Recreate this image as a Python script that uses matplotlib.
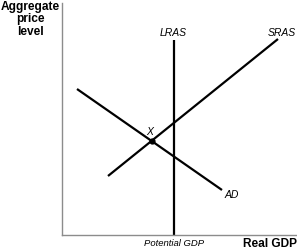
import matplotlib.pyplot as plt

plt.rcParams['font.family'] = ['Liberation Sans', 'DejaVu Sans']

# curve endpoints (in chart units, origin at the axes corner)
lras_x = 112
lras_y = [0, 195]
sras_x = [46, 216]
sras_y = [59, 196]
ad_x = [15, 160]
ad_y = [146, 45]
point_x = 89.5
point_y = 94

fig = plt.figure(figsize=(2.97, 2.52), dpi=100)
ax = fig.add_axes([62 / 297, 17 / 252, 235 / 297, 232 / 252])
ax.set_xlim(0, 235)
ax.set_ylim(0, 232)

# axes: only left and bottom
for s in ['top', 'right']:
    ax.spines[s].set_visible(False)
for s in ['left', 'bottom']:
    ax.spines[s].set_color('#8c8c8c')
    ax.spines[s].set_linewidth(1.0)
ax.set_xticks([])
ax.set_yticks([])

ax.plot([lras_x, lras_x], lras_y, color='black', lw=1.6, solid_capstyle='butt')
ax.plot(sras_x, sras_y, color='black', lw=1.6, solid_capstyle='butt')
ax.plot(ad_x, ad_y, color='black', lw=1.6, solid_capstyle='butt')
ax.plot(point_x, point_y, 'o', color='black', ms=3.5)

ax.text(lras_x - 1, 197, 'LRAS', style='italic', fontsize=7.5, ha='center', va='bottom')
ax.text(sras_x[1] + 4, 197, 'SRAS', style='italic', fontsize=7.5, ha='center', va='bottom')
ax.text(ad_x[1] + 10, 40, 'AD', style='italic', fontsize=7.5, ha='center', va='center')
ax.text(point_x - 2, point_y + 4, 'X', style='italic', fontsize=7.5, ha='center', va='bottom')

fig.text(174 / 297, 1 - 243 / 252, 'Potential GDP', style='italic', fontsize=6.8,
         ha='center', va='center')
fig.text(270 / 297, 1 - 244 / 252, 'Real GDP', fontweight='bold', fontsize=8.6,
         ha='center', va='center')
fig.text(30 / 297, 1 - 1 / 252, 'Aggregate\nprice\nlevel', fontweight='bold',
         fontsize=8.6, ha='center', va='top', linespacing=1.05)

fig.savefig('out.png', dpi=100)
